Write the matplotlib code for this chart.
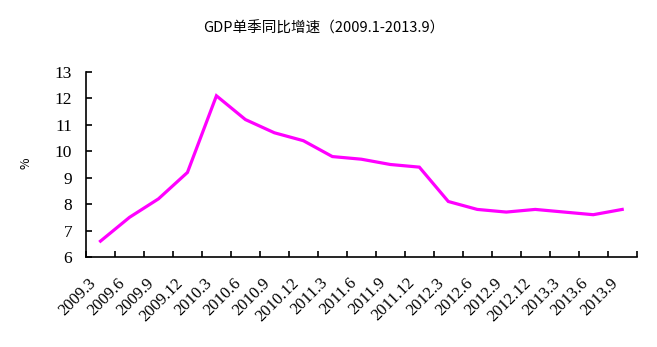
import matplotlib
matplotlib.use("Agg")
import matplotlib.pyplot as plt
import matplotlib.transforms as mtransforms
import numpy as np

# quarterly GDP growth, year-on-year (%)
quarters = ["2009.3", "2009.6", "2009.9", "2009.12",
            "2010.3", "2010.6", "2010.9", "2010.12",
            "2011.3", "2011.6", "2011.9", "2011.12",
            "2012.3", "2012.6", "2012.9", "2012.12",
            "2013.3", "2013.6", "2013.9"]
gdp_yoy = [6.6, 7.5, 8.2, 9.2,
           12.1, 11.2, 10.7, 10.4,
           9.8, 9.7, 9.5, 9.4,
           8.1, 7.8, 7.7, 7.8,
           7.7, 7.6, 7.8]
y_ticks = [6, 7, 8, 9, 10, 11, 12, 13]

CJK = ["Noto Sans CJK SC", "DejaVu Sans"]
SERIF = "Liberation Serif"

fig = plt.figure(figsize=(6.57, 3.47), dpi=100)
ax = fig.add_axes([0.1309, 0.2594, 0.9691 - 0.1309, 0.7925 - 0.2594])

x = np.arange(len(quarters))
ax.plot(x, gdp_yoy, color="#ff00ff", lw=2.3, solid_joinstyle="miter")

ax.set_xlim(-0.5, len(quarters) - 0.5)
ax.set_ylim(y_ticks[0], y_ticks[-1])

for side in ("top", "right"):
    ax.spines[side].set_visible(False)
for side in ("left", "bottom"):
    ax.spines[side].set_linewidth(1.2)

# y axis: inward ticks, serif numbers
ax.set_yticks(y_ticks)
ax.set_yticklabels([str(v) for v in y_ticks], fontfamily=SERIF, fontsize=12.5)
ax.tick_params(axis="y", direction="in", length=4, width=1.2, pad=10)

# x axis: boundary ticks (minor), labels at category centres (major)
ax.set_xticks(np.arange(-0.5, len(quarters), 1.0), minor=True)
ax.tick_params(axis="x", which="minor", direction="in", length=4, width=1.2)
ax.set_xticks(x)
ax.set_xticklabels(quarters, rotation=45, ha="right", va="center",
                   rotation_mode="anchor", fontfamily=SERIF, fontsize=12)
ax.tick_params(axis="x", which="major", length=0, pad=17)
shift = mtransforms.ScaledTranslation(-0.07, 0, fig.dpi_scale_trans)
for lab in ax.get_xticklabels():
    lab.set_transform(lab.get_transform() + shift)

ax.set_ylabel("%", family=CJK, fontsize=9)
ax.yaxis.set_label_coords(-0.098, 0.508)

fig.text(324 / 657, 1 - 28 / 347, "GDP单季同比增速（2009.1-2013.9）",
         ha="center", va="center", family=CJK, fontsize=10.5)

fig.savefig("out.png", dpi=100)
